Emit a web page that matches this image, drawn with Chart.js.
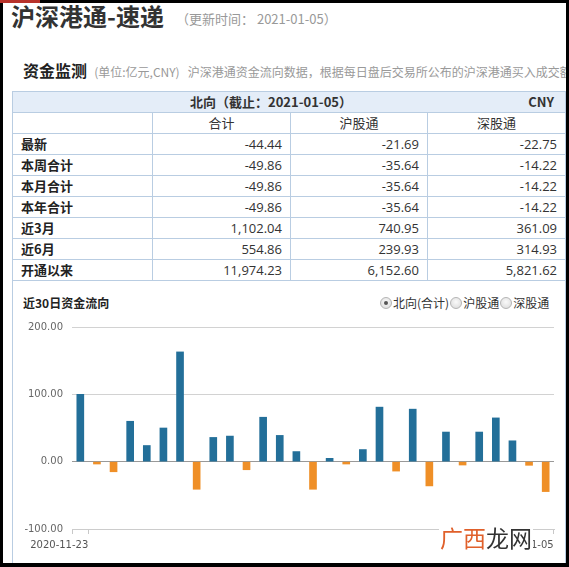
<!DOCTYPE html>
<html>
<head>
<meta charset="utf-8">
<script src="https://cdn.jsdelivr.net/npm/chart.js@4/dist/chart.umd.min.js"></script>
<style>
html, body { margin: 0; padding: 0; }
body { width: 569px; height: 567px; position: relative; overflow: hidden; background: #fff;
  font-family: "Noto Sans CJK SC", sans-serif; color: #333; }
.abs { position: absolute; white-space: nowrap; }
.frame { position: absolute; background: #000; z-index: 20; }
#title { left: 11px; top: 1px; font-size: 24px; font-weight: bold; line-height: 30px; color: #333; }
#update { left: 176px; top: 11px; font-size: 13px; line-height: 16px; color: #999; }
#sub { left: 23px; top: 60px; line-height: 20px; }
#sub b { font-size: 16px; color: #222; }
#sub span { font-size: 12px; color: #999; }
#box { left: 12px; top: 91px; width: 552px; height: 490px; border: 1px solid #b9cde2; }
#tbl { position: absolute; left: 12px; top: 91px; width: 554px; border-collapse: collapse; table-layout: fixed; }
#tbl td { border: 1px solid #b9cde2; height: 20px; padding: 0 8px; font-size: 13px; line-height: 20px; }
#tbl tr.hd td { background: #e4edf8; font-weight: bold; text-align: center; position: relative; padding-right: 44px; }
#tbl tr.hd .cny { position: absolute; right: 11px; top: 0; }
#tbl tr.ch td { text-align: center; }
#tbl td.lab { font-weight: bold; color: #222; }
#tbl td.num { text-align: right; font-family: "Open Sans", "Noto Sans CJK SC", sans-serif; color: #333; }
#ctitle { left: 23px; top: 295px; font-size: 12px; font-weight: bold; line-height: 16px; color: #222; }
#radios { left: 379px; top: 295px; font-size: 12px; line-height: 16px; color: #333; }
.rd { display: inline-block; width: 10px; height: 10px; border-radius: 50%; border: 1px solid #b5b5b5;
  background: radial-gradient(circle at 50% 40%, #fafafa, #d8d8d8); vertical-align: -1px; margin: 0 1px 0 1px; position: relative; }
.rd.on::after { content: ""; position: absolute; left: 3px; top: 3px; width: 4px; height: 4px; border-radius: 50%; background: #555; }
#chartBox { position: absolute; left: 13px; top: 318px; width: 551px; height: 240px; }
#mark { left: 439px; top: 523px; font-size: 23px; line-height: 28px; background: #fff; z-index: 5; padding: 0 1px; }
#mark .a { color: #e0602b; }
#mark .b { color: #333; }
</style>
</head>
<body>
<div class="abs" id="title">沪深港通-速递</div>
<div class="abs" id="update">（更新时间： 2021-01-05）</div>
<div class="abs" id="sub"><b>资金监测</b>&nbsp;&nbsp;<span>(单位:亿元,CNY)&nbsp;&nbsp;&nbsp;沪深港通资金流向数据，根据每日盘后交易所公布的沪深港通买入成交额和卖出成交额计算</span></div>
<div class="abs" id="box"></div>
<table id="tbl">
  <colgroup><col style="width:140px"><col style="width:138px"><col style="width:137px"><col style="width:138px"></colgroup>
  <tbody id="tbody">
    <tr class="hd"><td colspan="4">北向（截止：2021-01-05）<span class="cny">CNY</span></td></tr>
  </tbody>
</table>
<div class="abs" id="ctitle">近30日资金流向</div>
<div class="abs" id="radios"><span class="rd on"></span>北向(合计)<span class="rd"></span>沪股通<span class="rd"></span>深股通</div>
<div id="chartBox"><canvas id="flow" width="551" height="240"></canvas></div>
<div class="abs" id="mark"><span class="a">广西</span><span class="b">龙网</span></div>
<div class="frame" style="left:0;top:0;width:569px;height:3px"></div>
<div class="frame" style="left:0;top:0;width:40px;height:3px;background:#b8322a;z-index:21"></div>
<div class="frame" style="left:0;top:0;width:3px;height:567px"></div>
<div class="frame" style="left:566px;top:0;width:3px;height:567px"></div>
<div class="frame" style="left:0;top:563px;width:569px;height:4px"></div>

<script>
// 表格数据
const colNames = ['合计', '沪股通', '深股通'];
const rowNames = ['最新', '本周合计', '本月合计', '本年合计', '近3月', '近6月', '开通以来'];
const totalVals = ['-44.44', '-49.86', '-49.86', '-49.86', '1,102.04', '554.86', '11,974.23'];
const shVals = ['-21.69', '-35.64', '-35.64', '-35.64', '740.95', '239.93', '6,152.60'];
const szVals = ['-22.75', '-14.22', '-14.22', '-14.22', '361.09', '314.93', '5,821.62'];

// 近30日资金流向（北向合计）
const dates = [
  '2020-11-23', '2020-11-24', '2020-11-25', '2020-11-26', '2020-11-27',
  '2020-11-30', '2020-12-01', '2020-12-02', '2020-12-03', '2020-12-04',
  '2020-12-07', '2020-12-08', '2020-12-09', '2020-12-10', '2020-12-11',
  '2020-12-14', '2020-12-15', '2020-12-16', '2020-12-17', '2020-12-18',
  '2020-12-21', '2020-12-22', '2020-12-23', '2020-12-28', '2020-12-29',
  '2020-12-30', '2020-12-31', '2021-01-04', '2021-01-05'
];
const flows = [
  100, -3.5, -15, 60, 24,
  50, 163, -41, 36, 38,
  -12, 66, 39, 15, -41,
  5, -3.5, 18, 81, -14,
  78, -36, 44, -5, 44,
  65, 31, -5.42, -44.44
];
const yMin = -100, yMax = 200, yStep = 100;

// 表格
const tbody = document.getElementById('tbody');
let html = '<tr class="ch"><td></td>' + colNames.map(n => '<td>' + n + '</td>').join('') + '</tr>';
rowNames.forEach((name, i) => {
  html += '<tr><td class="lab">' + name + '</td><td class="num">' + totalVals[i] +
    '</td><td class="num">' + shVals[i] + '</td><td class="num">' + szVals[i] + '</td></tr>';
});
tbody.insertAdjacentHTML('beforeend', html);

// 图表
const BLUE = '#236f99';
const ORANGE = '#ef8f27';
const ctx = document.getElementById('flow').getContext('2d');
const chart = new Chart(ctx, {
  type: 'bar',
  data: {
    labels: dates,
    datasets: [{
      data: flows,
      backgroundColor: c => (c.raw >= 0 ? BLUE : ORANGE),
      barThickness: 7
    }]
  },
  options: {
    responsive: false,
    devicePixelRatio: 1,
    animation: false,
    layout: { padding: { top: 9, right: 10, bottom: 7, left: 0 } },
    plugins: { legend: { display: false }, tooltip: { enabled: false } },
    scales: {
      x: {
        grid: {
          offset: true,
          drawOnChartArea: false,
          drawTicks: true,
          tickLength: 5,
          color: c => (c.index === 0 || c.index === 1 || c.index === undefined) ? '#c8c8c8' : 'rgba(0,0,0,0)'
        },
        border: { display: true, color: '#cccccc' },
        ticks: {
          autoSkip: false,
          maxRotation: 0,
          minRotation: 0,
          align: 'end',
          labelOffset: 8,
          padding: 5,
          color: '#555',
          font: { family: 'DejaVu Sans', size: 10 },
          callback: (v, i) => (i === 0 || i === dates.length - 1) ? dates[i] : ''
        },
        afterFit: s => { s.height = 22; }
      },
      y: {
        min: yMin,
        max: yMax,
        ticks: {
          stepSize: yStep,
          padding: 0,
          color: '#666',
          font: { family: 'DejaVu Sans', size: 10 },
          callback: v => v.toFixed(2)
        },
        grid: {
          drawTicks: true,
          tickLength: 9,
          tickColor: 'rgba(0,0,0,0)',
          color: c => (c.tick && c.tick.value === 0) ? '#999999' : '#d2d2d2'
        },
        border: { display: false },
        afterFit: s => { s.width = 59; }
      }
    }
  }
});
</script>
</body>
</html>
